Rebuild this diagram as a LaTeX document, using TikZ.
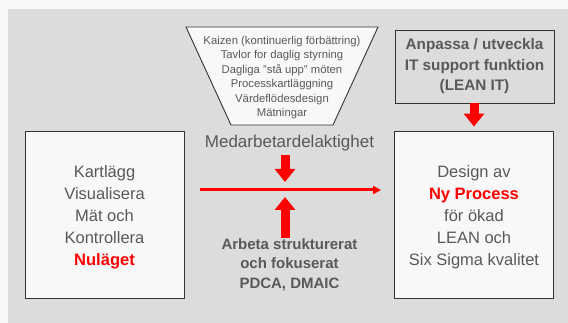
\documentclass[tikz,border=0pt]{standalone}
\usepackage{fontspec}
\setmainfont{Liberation Sans}
\usetikzlibrary{arrows.meta,calc}
\definecolor{pagebg}{HTML}{F7F7F7}
\definecolor{panelbg}{HTML}{DCDCDC}
\definecolor{boxbg}{HTML}{F8F8F8}
\definecolor{txt}{HTML}{595959}
\definecolor{edge}{HTML}{333333}
\definecolor{hot}{HTML}{FF0000}
\tikzset{
  mainbox/.style={draw=edge, line width=0.9pt, fill=boxbg, minimum width=159pt,
    minimum height=167pt, inner sep=0pt},
  boxtext/.style={align=center, text=txt, inner sep=0pt,
    font=\fontsize{16.5}{22}\selectfont},
  itbox/.style={draw=edge, line width=0.9pt, fill=panelbg, minimum width=159pt,
    minimum height=73pt, align=center, text=txt, inner sep=0pt,
    font=\fontsize{15.3}{20.5}\selectfont\bfseries},
  fatarrow/.style={hot, line width=9pt, -{Triangle[width=20pt,length=13pt]}},
  thinarrow/.style={hot, line width=3pt, -{Triangle[width=8pt,length=8pt]}}
}
\begin{document}
\begin{tikzpicture}[x=1pt,y=-1pt]
  % page and panel
  \fill[pagebg] (0,0) rectangle (568,323);
  \fill[panelbg] (8,9) rectangle (568,323);
  \useasboundingbox (0,0) rectangle (568,323);

  % funnel of methods
  \filldraw[fill=boxbg, draw=edge, line width=0.9pt]
    (186,27) -- (378,27) -- (333,125) -- (231,125) -- cycle;
  \node[align=center, text=txt, inner sep=0pt,
        font=\fontsize{11.3}{14.5}\selectfont] (tools) at (282,77.5)
    {Kaizen (kontinuerlig förbättring)\\Tavlor for daglig styrning\\
     Dagliga "stå upp" möten\\Processkartläggning\\Värdeflödesdesign\\Mätningar};

  % main boxes and their texts
  \node[mainbox] (now) at (104.5,214.5) {};
  \node[boxtext] (nowtext) at (104.5,217)
    {Kartlägg\\Visualisera\\Mät och\\Kontrollera\\{\color{hot}\bfseries Nuläget}};
  \node[mainbox] (new) at (474,214.5) {};
  \node[boxtext] (newtext) at (474,217)
    {Design av\\{\color{hot}\bfseries Ny Process}\\för ökad\\LEAN och\\Six Sigma kvalitet};
  \node[itbox] (it) at (474.5,66.5)
    {Anpassa / utveckla\\IT support funktion\\(LEAN IT)};

  % labels around the main arrow
  \node[text=txt, inner sep=0pt, font=\fontsize{17}{20}\selectfont] (med) at (289.5,143)
    {Medarbetardelaktighet};
  \node[align=center, text=txt, inner sep=0pt,
        font=\fontsize{15}{19.5}\selectfont\bfseries] (arb) at (289.5,264.5)
    {Arbeta strukturerat\\och fokuserat\\PDCA, DMAIC};

  % arrows
  \coordinate (hit) at (285,190);
  \draw[thinarrow, shorten <=16pt, shorten >=13pt] (now.east |- hit) -- (new.west |- hit);
  \draw[fatarrow, shorten <=4pt] (med.south -| hit) -- ([yshift=8pt]hit);
  \draw[fatarrow] (arb.north -| hit) -- ([yshift=-7pt]hit);
  \draw[fatarrow] (it.south -| new.north) -- ([yshift=4pt]new.north);
\end{tikzpicture}
\end{document}
